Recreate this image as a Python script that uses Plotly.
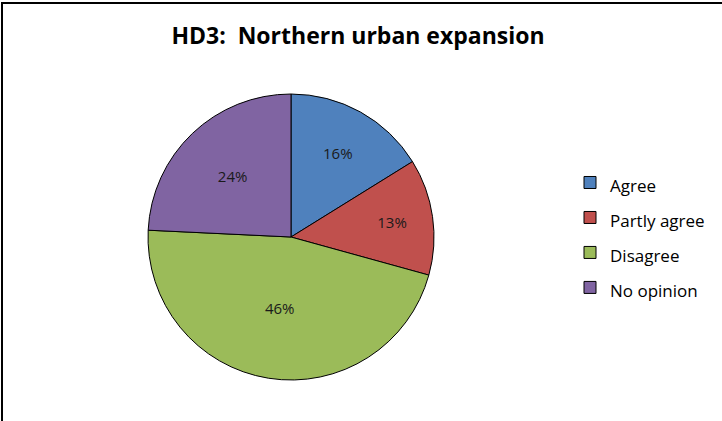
import plotly.graph_objects as go

categories = ["Agree", "Partly agree", "Disagree", "No opinion"]
values = [16, 13, 46, 24]
colors = ["#4F81BD", "#C0504D", "#9BBB59", "#8064A2"]

W, H = 722, 421
cx, cy, r = 291, 237, 143

legend_labels = ['<span style="font-size:17px">%s</span>' % c for c in categories]

fig = go.Figure(go.Pie(
    labels=legend_labels,
    values=values,
    sort=False,
    direction="clockwise",
    rotation=0,
    marker=dict(colors=colors, line=dict(color="#000000", width=1)),
    texttemplate="%{percent:.0%}",
    textposition="inside",
    insidetextorientation="horizontal",
    textfont=dict(family="Open Sans", size=15, color="#1a1a1a"),
    domain=dict(x=[(cx - r) / W, (cx + r) / W], y=[(H - cy - r) / H, (H - cy + r) / H]),
    hoverinfo="skip",
    showlegend=True,
))

fig.update_layout(
    width=W, height=H,
    margin=dict(l=0, r=0, t=0, b=0),
    paper_bgcolor="white",
    title=dict(text="<b>HD3:  Northern urban expansion</b>", x=358 / W, xanchor="center",
               y=1 - 36 / H, yanchor="middle",
               font=dict(family="Open Sans", size=23, color="#000000")),
    legend=dict(x=570 / W, xanchor="left", y=1 - 160 / H, yanchor="top",
                font=dict(family="Open Sans", size=24.6, color="#000000"),
                bgcolor="rgba(0,0,0,0)", borderwidth=0),
    shapes=[dict(type="rect", xref="paper", yref="paper",
                 x0=2 / W, x1=740 / W, y0=1 - 440 / H, y1=1 - 3 / H,
                 line=dict(color="#000000", width=2))],
)

fig.write_html("out.html", config={"displayModeBar": False},
               post_script="document.body.style.margin='0';")
